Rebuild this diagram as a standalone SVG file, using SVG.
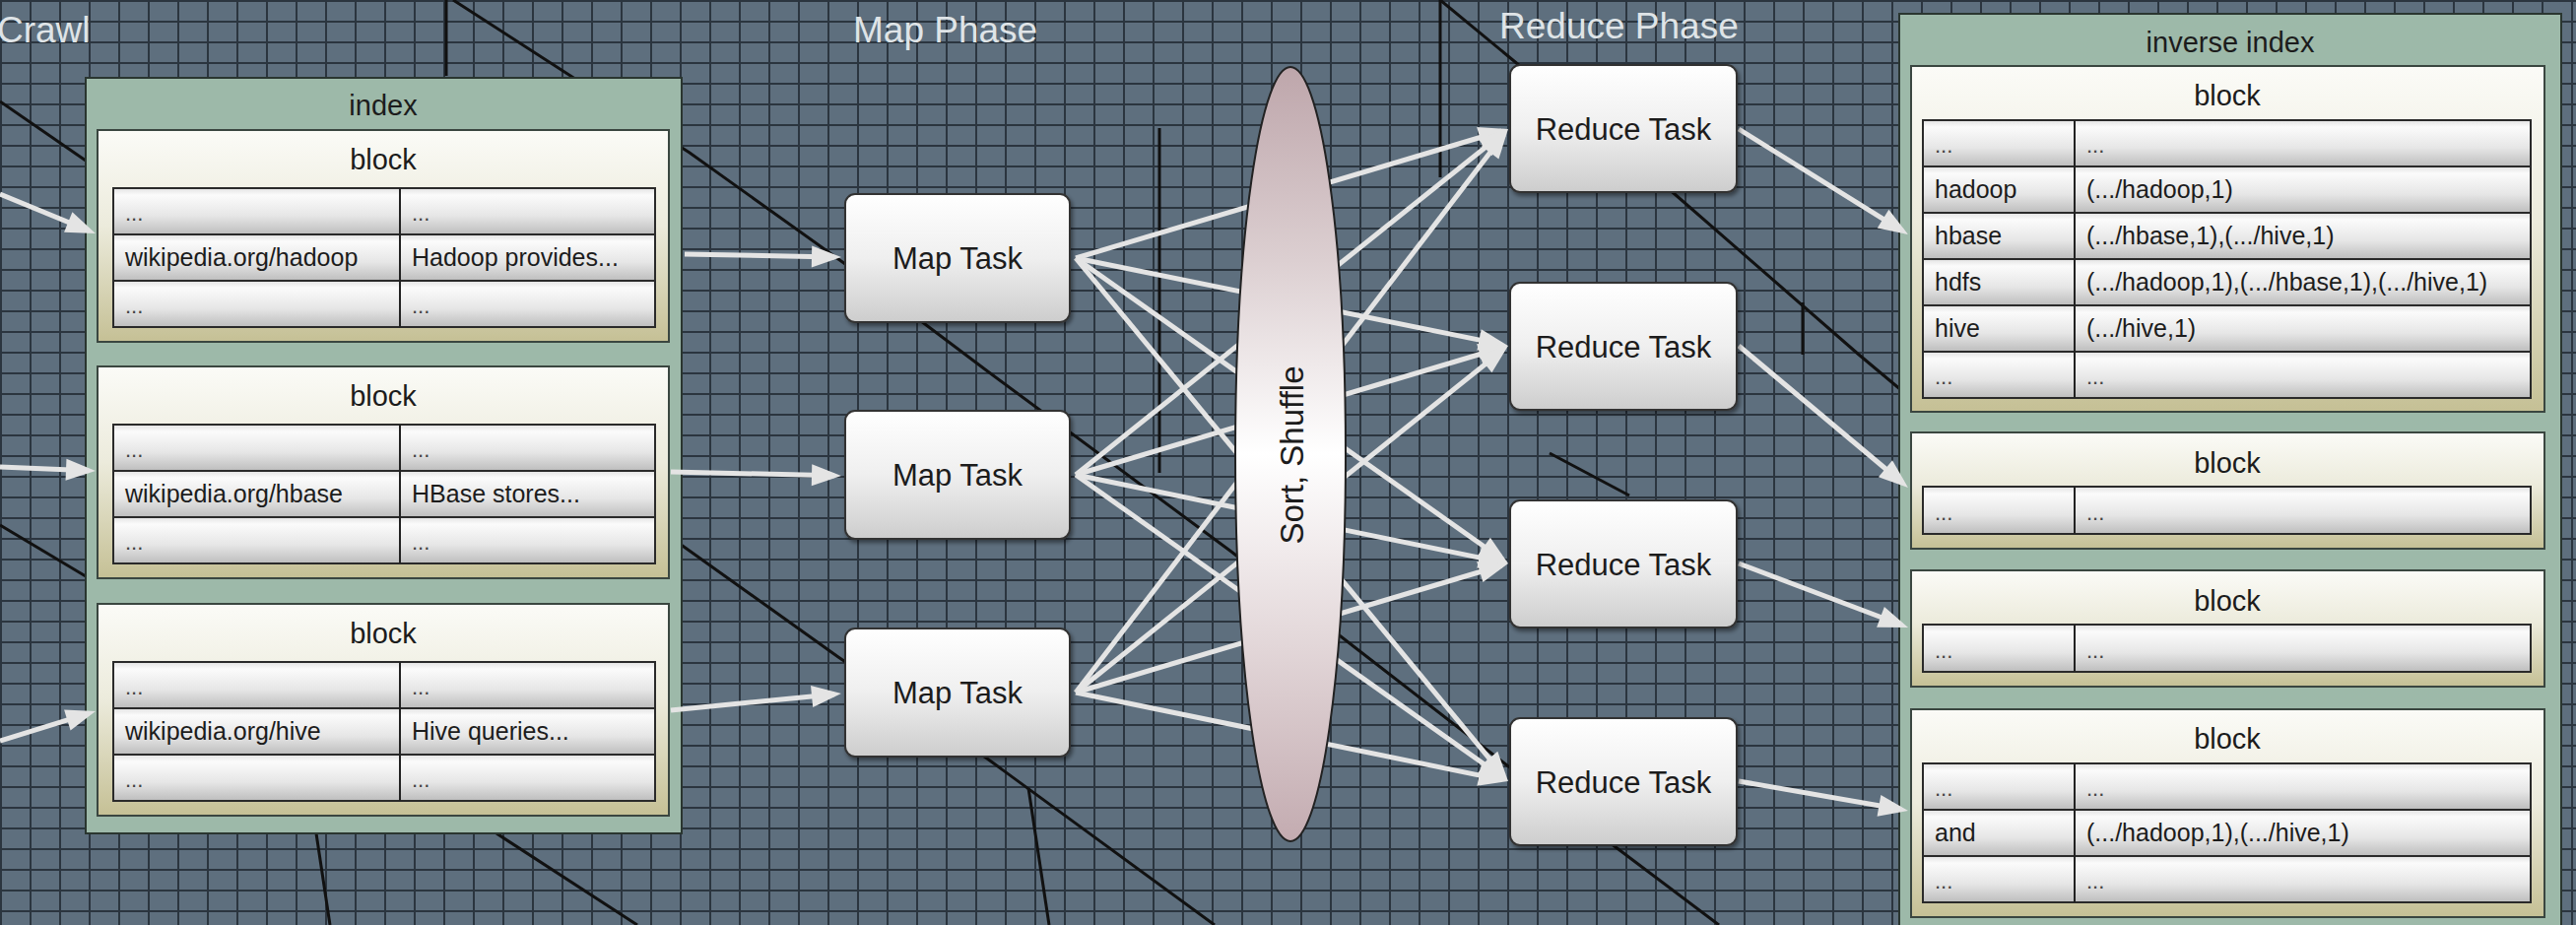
<svg xmlns="http://www.w3.org/2000/svg" width="2615" height="939" viewBox="0 0 2615 939">
<defs>
<style>
.t{font-family:"Liberation Sans",Arial,Helvetica,sans-serif;fill:#1c1c1c}
.cell{font-size:25px}
.dots{font-size:22px;fill:#444}
.blk{font-size:29px;text-anchor:middle}
.task{font-size:31px;text-anchor:middle}
.phase{font-family:"Liberation Sans",Arial,Helvetica,sans-serif;font-size:37px;fill:#dfe4e7}
.cont{fill:#9db9a9;stroke:#2a3630;stroke-width:2}
.block{fill:url(#gBlock);stroke:#3a4640;stroke-width:2}
.row{fill:url(#gCell);stroke:#2a2a2a;stroke-width:2}
.div{stroke:#222;stroke-width:2}
.box{fill:url(#gBox);stroke:#333;stroke-width:2;filter:url(#sh)}
.con{fill:none;stroke:#e4e4e4;stroke-width:5;marker-end:url(#ah)}
.bgl{fill:none;stroke:#111;stroke-width:3}
</style>
<pattern id="grid" width="30" height="21" patternUnits="userSpaceOnUse">
<rect width="30" height="21" fill="#5e6f7e"/>
<path d="M0,1 H30 M1,0 V21" stroke="#2b353f" stroke-width="2"/>
</pattern>
<linearGradient id="gBlock" x1="0" y1="0" x2="0" y2="1">
<stop offset="0" stop-color="#fbfbf7"/>
<stop offset="0.45" stop-color="#ecebdc"/>
<stop offset="1" stop-color="#c5c095"/>
</linearGradient>
<linearGradient id="gCell" x1="0" y1="0" x2="0" y2="1">
<stop offset="0" stop-color="#e2e2e2"/>
<stop offset="0.15" stop-color="#fbfbfb"/>
<stop offset="0.6" stop-color="#e6e6e6"/>
<stop offset="1" stop-color="#bdbdbd"/>
</linearGradient>
<linearGradient id="gBox" x1="0" y1="0" x2="0" y2="1">
<stop offset="0" stop-color="#ffffff"/>
<stop offset="0.5" stop-color="#efefef"/>
<stop offset="1" stop-color="#cdcdcd"/>
</linearGradient>
<linearGradient id="gEll" x1="0" y1="0" x2="0" y2="1">
<stop offset="0" stop-color="#bea6ab"/>
<stop offset="0.25" stop-color="#dccfd1"/>
<stop offset="0.5" stop-color="#ffffff"/>
<stop offset="0.75" stop-color="#e2d6d8"/>
<stop offset="1" stop-color="#c3abb0"/>
</linearGradient>
<filter id="sh" x="-10%" y="-10%" width="130%" height="130%">
<feDropShadow dx="2" dy="3" stdDeviation="2" flood-color="#000" flood-opacity="0.45"/>
</filter>
<marker id="ah" markerUnits="userSpaceOnUse" markerWidth="30" markerHeight="22" refX="23" refY="11" orient="auto" overflow="visible">
<path d="M0,0 L30,11 L0,22 Z" fill="#e4e4e4"/>
</marker>
</defs>

<rect width="2615" height="939" fill="url(#grid)"/>
<g id="background-lines">
<path class="bgl" d="M0,103 L87,163"/>
<path class="bgl" d="M0,533 L87,585"/>
<path class="bgl" d="M453,0 V77"/>
<path class="bgl" d="M460,0 L700,155 L858,268 L1000,375 L1250,560 L1530,777 L1745,939"/>
<path class="bgl" d="M690,552 L851,667 L1002,770 L1233,939"/>
<path class="bgl" d="M1044,800 L1065,939"/>
<path class="bgl" d="M1462,0 V180"/>
<path class="bgl" d="M1462,0 L1537,62 L1700,197 L1887,360 L1930,396"/>
<path class="bgl" d="M1177,130 V480"/>
<path class="bgl" d="M1573,460 L1654,503"/>
<path class="bgl" d="M1830,307 V360"/>
<path class="bgl" d="M321,846 L335,939"/>
<path class="bgl" d="M504,846 L647,939"/>
</g>

<g id="phase-labels">
<text class="phase" x="-3" y="43">Crawl</text>
<text class="phase" x="866" y="43">Map Phase</text>
<text class="phase" x="1522" y="39">Reduce Phase</text>
</g>

<g id="index">
<rect class="cont" x="87" y="79" width="605" height="767"/>
<text class="t blk" x="389" y="117">index</text>
<g id="index-block-1">
<rect class="block" x="99" y="132" width="580" height="215"/>
<text class="t blk" x="389" y="172">block</text>
<rect class="row" x="115" y="191" width="550" height="47"/>
<rect class="row" x="115" y="238" width="550" height="47"/>
<rect class="row" x="115" y="285" width="550" height="47"/>
<line class="div" x1="406" y1="191" x2="406" y2="332"/>
<text class="t dots" x="127" y="224">...</text><text class="t dots" x="418" y="224">...</text>
<text class="t cell" x="127" y="270">wikipedia.org/hadoop</text><text class="t cell" x="418" y="270">Hadoop provides...</text>
<text class="t dots" x="127" y="318">...</text><text class="t dots" x="418" y="318">...</text>
</g>
<g id="index-block-2">
<rect class="block" x="99" y="372" width="580" height="215"/>
<text class="t blk" x="389" y="412">block</text>
<rect class="row" x="115" y="431" width="550" height="47"/>
<rect class="row" x="115" y="478" width="550" height="47"/>
<rect class="row" x="115" y="525" width="550" height="47"/>
<line class="div" x1="406" y1="431" x2="406" y2="572"/>
<text class="t dots" x="127" y="464">...</text><text class="t dots" x="418" y="464">...</text>
<text class="t cell" x="127" y="510">wikipedia.org/hbase</text><text class="t cell" x="418" y="510">HBase stores...</text>
<text class="t dots" x="127" y="558">...</text><text class="t dots" x="418" y="558">...</text>
</g>
<g id="index-block-3">
<rect class="block" x="99" y="613" width="580" height="215"/>
<text class="t blk" x="389" y="653">block</text>
<rect class="row" x="115" y="672" width="550" height="47"/>
<rect class="row" x="115" y="719" width="550" height="47"/>
<rect class="row" x="115" y="766" width="550" height="47"/>
<line class="div" x1="406" y1="672" x2="406" y2="813"/>
<text class="t dots" x="127" y="705">...</text><text class="t dots" x="418" y="705">...</text>
<text class="t cell" x="127" y="751">wikipedia.org/hive</text><text class="t cell" x="418" y="751">Hive queries...</text>
<text class="t dots" x="127" y="799">...</text><text class="t dots" x="418" y="799">...</text>
</g>
</g>

<g id="inverse-index">
<rect class="cont" x="1928" y="14" width="672" height="940"/>
<text class="t blk" x="2264" y="53">inverse index</text>
<g id="inv-block-1">
<rect class="block" x="1940" y="67" width="643" height="351"/>
<text class="t blk" x="2261" y="107">block</text>
<rect class="row" x="1952" y="122" width="617" height="47"/>
<rect class="row" x="1952" y="169" width="617" height="47"/>
<rect class="row" x="1952" y="216" width="617" height="47"/>
<rect class="row" x="1952" y="263" width="617" height="47"/>
<rect class="row" x="1952" y="310" width="617" height="47"/>
<rect class="row" x="1952" y="357" width="617" height="47"/>
<line class="div" x1="2106" y1="122" x2="2106" y2="404"/>
<text class="t dots" x="1964" y="155">...</text><text class="t dots" x="2118" y="155">...</text>
<text class="t cell" x="1964" y="201">hadoop</text><text class="t cell" x="2118" y="201">(.../hadoop,1)</text>
<text class="t cell" x="1964" y="248">hbase</text><text class="t cell" x="2118" y="248">(.../hbase,1),(.../hive,1)</text>
<text class="t cell" x="1964" y="295">hdfs</text><text class="t cell" x="2118" y="295">(.../hadoop,1),(.../hbase,1),(.../hive,1)</text>
<text class="t cell" x="1964" y="342">hive</text><text class="t cell" x="2118" y="342">(.../hive,1)</text>
<text class="t dots" x="1964" y="390">...</text><text class="t dots" x="2118" y="390">...</text>
</g>
<g id="inv-block-2">
<rect class="block" x="1940" y="439" width="643" height="118"/>
<text class="t blk" x="2261" y="480">block</text>
<rect class="row" x="1952" y="494" width="617" height="48"/>
<line class="div" x1="2106" y1="494" x2="2106" y2="542"/>
<text class="t dots" x="1964" y="528">...</text><text class="t dots" x="2118" y="528">...</text>
</g>
<g id="inv-block-3">
<rect class="block" x="1940" y="579" width="643" height="118"/>
<text class="t blk" x="2261" y="620">block</text>
<rect class="row" x="1952" y="634" width="617" height="48"/>
<line class="div" x1="2106" y1="634" x2="2106" y2="682"/>
<text class="t dots" x="1964" y="668">...</text><text class="t dots" x="2118" y="668">...</text>
</g>
<g id="inv-block-4">
<rect class="block" x="1940" y="720" width="643" height="211"/>
<text class="t blk" x="2261" y="760">block</text>
<rect class="row" x="1952" y="775" width="617" height="47"/>
<rect class="row" x="1952" y="822" width="617" height="47"/>
<rect class="row" x="1952" y="869" width="617" height="47"/>
<line class="div" x1="2106" y1="775" x2="2106" y2="916"/>
<text class="t dots" x="1964" y="808">...</text><text class="t dots" x="2118" y="808">...</text>
<text class="t cell" x="1964" y="854">and</text><text class="t cell" x="2118" y="854">(.../hadoop,1),(.../hive,1)</text>
<text class="t dots" x="1964" y="902">...</text><text class="t dots" x="2118" y="902">...</text>
</g>
</g>

<g id="connectors">
<path class="con" d="M0,197 L90.5,234.3"/>
<path class="con" d="M0,474 L90,477.7"/>
<path class="con" d="M0,752 L90.3,724.1"/>
<path class="con" d="M695,258 L847,260.9"/>
<path class="con" d="M681,479 L847,482.8"/>
<path class="con" d="M681,721 L847,704.7"/>
<path class="con" d="M1092,262 L1524.3,133"/>
<path class="con" d="M1092,262 L1524.1,349.6"/>
<path class="con" d="M1092,262 L1525.3,568"/>
<path class="con" d="M1092,262 L1526.5,787.6"/>
<path class="con" d="M1092,482 L1525.5,135.4"/>
<path class="con" d="M1092,482 L1524.3,353"/>
<path class="con" d="M1092,482 L1524.1,570.6"/>
<path class="con" d="M1092,482 L1525.3,789"/>
<path class="con" d="M1092,703 L1526.7,136.6"/>
<path class="con" d="M1092,703 L1525.5,355.4"/>
<path class="con" d="M1092,703 L1524.3,574"/>
<path class="con" d="M1092,703 L1524.1,791.6"/>
<path class="con" d="M1765,131 L1931.1,234.3"/>
<path class="con" d="M1765,351 L1931.6,490.5"/>
<path class="con" d="M1765,572 L1930.5,634.5"/>
<path class="con" d="M1765,793 L1930.1,821.8"/>
</g>

<g id="map-task-1"><rect class="box" x="858" y="197" width="228" height="130" rx="10"/><text class="t task" x="972" y="273">Map Task</text></g>
<g id="map-task-2"><rect class="box" x="858" y="417" width="228" height="130" rx="10"/><text class="t task" x="972" y="493">Map Task</text></g>
<g id="map-task-3"><rect class="box" x="858" y="638" width="228" height="130" rx="10"/><text class="t task" x="972" y="714">Map Task</text></g>

<g id="sort-shuffle">
<ellipse cx="1310" cy="461" rx="56" ry="393" fill="url(#gEll)" stroke="#222" stroke-width="2"/>
<text class="t" font-size="33" text-anchor="middle" transform="translate(1323,462) rotate(-90)">Sort, Shuffle</text>
</g>

<g id="reduce-task-1"><rect class="box" x="1533" y="66" width="230" height="129" rx="10"/><text class="t task" x="1648" y="142">Reduce Task</text></g>
<g id="reduce-task-2"><rect class="box" x="1533" y="287" width="230" height="129" rx="10"/><text class="t task" x="1648" y="363">Reduce Task</text></g>
<g id="reduce-task-3"><rect class="box" x="1533" y="508" width="230" height="129" rx="10"/><text class="t task" x="1648" y="584">Reduce Task</text></g>
<g id="reduce-task-4"><rect class="box" x="1533" y="729" width="230" height="129" rx="10"/><text class="t task" x="1648" y="805">Reduce Task</text></g>
</svg>
